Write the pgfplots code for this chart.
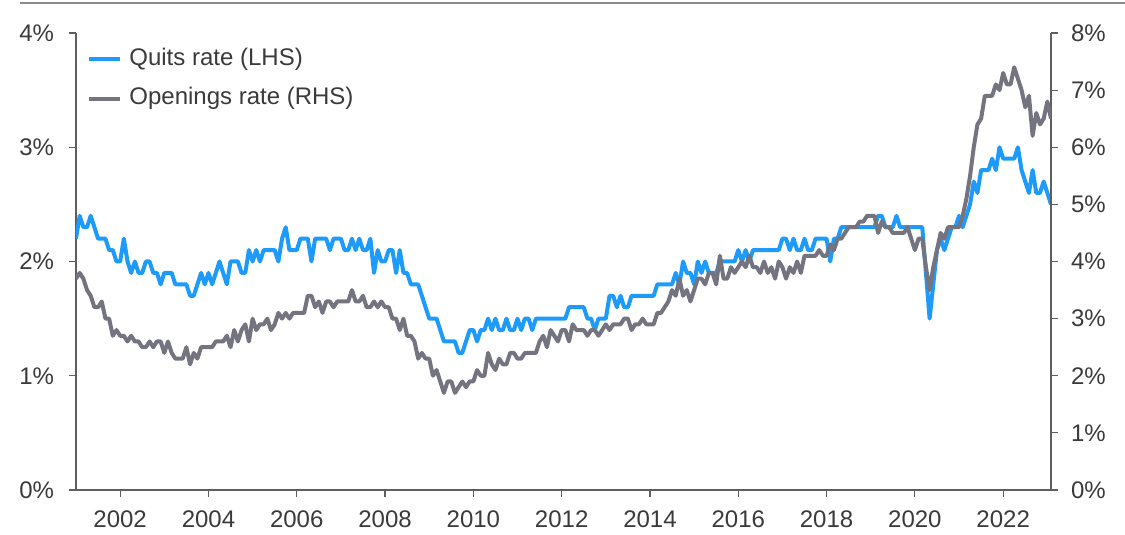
\documentclass[border=0pt]{standalone}
\usepackage{pgfplots}
\pgfplotsset{compat=1.18}
\usepackage{pgfplotstable}
\usepackage{fontspec}
\setmainfont{Liberation Sans}
\definecolor{qblue}{HTML}{1E9BFA}
\definecolor{ogray}{HTML}{747480}
\definecolor{txt}{HTML}{3A3A3A}
\definecolor{axgray}{HTML}{5E5E5E}
\definecolor{rule}{HTML}{8C8C8C}

\pgfplotstableread{
m q o
0 2.2 3.7
1 2.4 3.8
2 2.3 3.7
3 2.3 3.5
4 2.4 3.4
5 2.3 3.2
6 2.2 3.2
7 2.2 3.3
8 2.2 3.0
9 2.1 3.0
10 2.1 2.7
11 2.0 2.8
12 2.0 2.7
13 2.2 2.7
14 2.0 2.6
15 1.9 2.7
16 2.0 2.6
17 1.9 2.6
18 1.9 2.5
19 2.0 2.5
20 2.0 2.6
21 1.9 2.5
22 1.9 2.6
23 1.8 2.6
24 1.9 2.4
25 1.9 2.6
26 1.9 2.4
27 1.8 2.3
28 1.8 2.3
29 1.8 2.3
30 1.8 2.5
31 1.7 2.2
32 1.7 2.4
33 1.8 2.3
34 1.9 2.5
35 1.8 2.5
36 1.9 2.5
37 1.8 2.5
38 1.9 2.6
39 2.0 2.6
40 1.9 2.6
41 1.8 2.7
42 2.0 2.5
43 2.0 2.8
44 2.0 2.6
45 1.9 2.8
46 1.9 2.9
47 2.1 2.6
48 2.0 3.0
49 2.1 2.8
50 2.0 2.9
51 2.1 2.9
52 2.1 3.0
53 2.1 2.8
54 2.1 2.9
55 2.0 3.1
56 2.2 3.0
57 2.3 3.1
58 2.1 3.0
59 2.1 3.1
60 2.1 3.1
61 2.2 3.1
62 2.2 3.1
63 2.2 3.4
64 2.0 3.4
65 2.2 3.2
66 2.2 3.3
67 2.2 3.1
68 2.2 3.3
69 2.1 3.3
70 2.2 3.2
71 2.2 3.3
72 2.2 3.3
73 2.1 3.3
74 2.1 3.3
75 2.2 3.5
76 2.1 3.3
77 2.2 3.3
78 2.1 3.4
79 2.1 3.2
80 2.2 3.2
81 1.9 3.3
82 2.1 3.2
83 2.0 3.3
84 2.0 3.2
85 2.1 3.2
86 2.1 3.0
87 1.9 3.0
88 2.1 2.8
89 1.9 3.0
90 1.9 2.7
91 1.8 2.7
92 1.8 2.6
93 1.8 2.3
94 1.7 2.4
95 1.6 2.3
96 1.5 2.3
97 1.5 2.0
98 1.5 2.1
99 1.4 1.9
100 1.3 1.7
101 1.3 1.9
102 1.3 1.9
103 1.3 1.7
104 1.2 1.8
105 1.2 1.9
106 1.3 1.8
107 1.4 1.9
108 1.4 1.9
109 1.3 2.1
110 1.4 2.0
111 1.4 2.0
112 1.5 2.4
113 1.4 2.2
114 1.5 2.1
115 1.4 2.3
116 1.4 2.2
117 1.5 2.2
118 1.4 2.4
119 1.4 2.4
120 1.5 2.3
121 1.4 2.3
122 1.5 2.4
123 1.5 2.4
124 1.4 2.4
125 1.5 2.4
126 1.5 2.6
127 1.5 2.7
128 1.5 2.5
129 1.5 2.8
130 1.5 2.7
131 1.5 2.6
132 1.5 2.8
133 1.5 2.8
134 1.6 2.6
135 1.6 2.9
136 1.6 2.8
137 1.6 2.8
138 1.6 2.8
139 1.5 2.7
140 1.5 2.8
141 1.4 2.8
142 1.5 2.7
143 1.5 2.8
144 1.5 2.9
145 1.7 2.8
146 1.7 2.9
147 1.6 2.9
148 1.7 2.9
149 1.6 3.0
150 1.6 3.0
151 1.7 2.8
152 1.7 2.9
153 1.7 2.9
154 1.7 3.0
155 1.7 2.9
156 1.7 2.9
157 1.7 2.9
158 1.8 3.1
159 1.8 3.1
160 1.8 3.2
161 1.8 3.3
162 1.8 3.5
163 1.9 3.4
164 1.8 3.7
165 2.0 3.4
166 1.9 3.5
167 1.9 3.3
168 1.8 3.5
169 2.0 3.7
170 1.9 3.7
171 2.0 3.6
172 1.9 3.8
173 1.9 3.8
174 1.9 3.6
175 2.0 4.1
176 2.0 3.7
177 2.0 3.7
178 2.0 3.9
179 2.0 3.8
180 2.1 3.9
181 2.0 4.0
182 2.1 3.9
183 2.0 4.1
184 2.1 3.9
185 2.1 3.9
186 2.1 3.8
187 2.1 4.0
188 2.1 3.8
189 2.1 3.9
190 2.1 3.7
191 2.1 4.0
192 2.2 3.9
193 2.2 3.7
194 2.1 3.9
195 2.2 3.8
196 2.1 4.0
197 2.1 3.8
198 2.2 4.1
199 2.1 4.1
200 2.1 4.1
201 2.2 4.1
202 2.2 4.2
203 2.2 4.1
204 2.2 4.1
205 2.0 4.3
206 2.2 4.2
207 2.2 4.4
208 2.3 4.4
209 2.3 4.5
210 2.3 4.6
211 2.3 4.6
212 2.3 4.6
213 2.3 4.7
214 2.3 4.7
215 2.3 4.8
216 2.3 4.8
217 2.3 4.8
218 2.4 4.5
219 2.4 4.7
220 2.3 4.6
221 2.3 4.6
222 2.3 4.5
223 2.4 4.5
224 2.3 4.5
225 2.3 4.5
226 2.3 4.6
227 2.3 4.4
228 2.3 4.2
229 2.3 4.4
230 2.3 4.4
231 1.9 3.9
232 1.5 3.5
233 1.8 3.9
234 2.1 4.2
235 2.2 4.5
236 2.1 4.4
237 2.2 4.6
238 2.3 4.6
239 2.3 4.6
240 2.4 4.6
241 2.3 4.8
242 2.4 5.1
243 2.5 5.5
244 2.7 6.0
245 2.6 6.4
246 2.8 6.5
247 2.8 6.9
248 2.8 6.9
249 2.9 6.9
250 2.8 7.1
251 3.0 7.0
252 2.9 7.3
253 2.9 7.1
254 2.9 7.1
255 2.9 7.4
256 3.0 7.2
257 2.8 7.0
258 2.7 6.7
259 2.6 6.9
260 2.8 6.2
261 2.6 6.6
262 2.6 6.4
263 2.7 6.5
264 2.6 6.8
265 2.5 6.5
}\jolts

\pgfplotsset{
  common/.style={
    scale only axis, width=487.5pt, height=228.5pt,
    xmin=2001, xmax=2023.083,
    axis line style={axgray, line width=0.6pt, -},
    tick style={axgray, line width=0.6pt},
    tick align=outside, major tick length=3.5pt,
    ticklabel style={font=\fontsize{12}{14}\selectfont, text=txt},
    /pgf/number format/assume math mode=true,
  }
}

\begin{document}
\begin{tikzpicture}
\path[use as bounding box] (-38pt,-22.5pt) rectangle (524.5pt,245pt);
\draw[rule, line width=1pt] (-28pt,243.5pt) -- (524.5pt,243.5pt);

\begin{axis}[common,
  ymin=0, ymax=4,
  axis y line*=left, axis x line*=bottom,
  xtick={2002,2004,...,2022},
  xticklabel={\pgfmathprintnumber[1000 sep={}]{\tick}},
  xticklabel style={yshift=-3.5pt},
  ytick={0,1,2,3,4},
  yticklabel={\pgfmathprintnumber{\tick}\%},
  yticklabel style={xshift=-4pt},
]
\addplot[qblue, line width=2pt, line join=round] table[x expr=2001+\thisrow{m}/12, y=q]{\jolts};
\end{axis}

\begin{axis}[common,
  ymin=0, ymax=8,
  axis y line*=right, axis x line=none,
  ytick={0,1,...,8},
  yticklabel={\pgfmathprintnumber{\tick}\%},
  yticklabel style={xshift=3pt},
  legend style={draw=none, fill=none, at={(0,1)}, anchor=north west,
    xshift=5.5pt, yshift=-7pt, inner sep=0pt,
    font=\fontsize{12}{14}\selectfont, text=txt,
    row sep=7.7pt, column sep=3.5pt,
    nodes={inner sep=0pt, text height=9pt, text depth=3pt}},
  legend cell align=left,
  legend image code/.code={\draw[#1] (0pt,0pt) -- (15.5pt,0pt);},
]
\addlegendimage{qblue, line width=2pt}
\addlegendentry{Quits rate (LHS)}
\addplot[ogray, line width=2pt, line join=round] table[x expr=2001+\thisrow{m}/12, y=o]{\jolts};
\addlegendentry{Openings rate (RHS)}
\end{axis}
\end{tikzpicture}
\end{document}
